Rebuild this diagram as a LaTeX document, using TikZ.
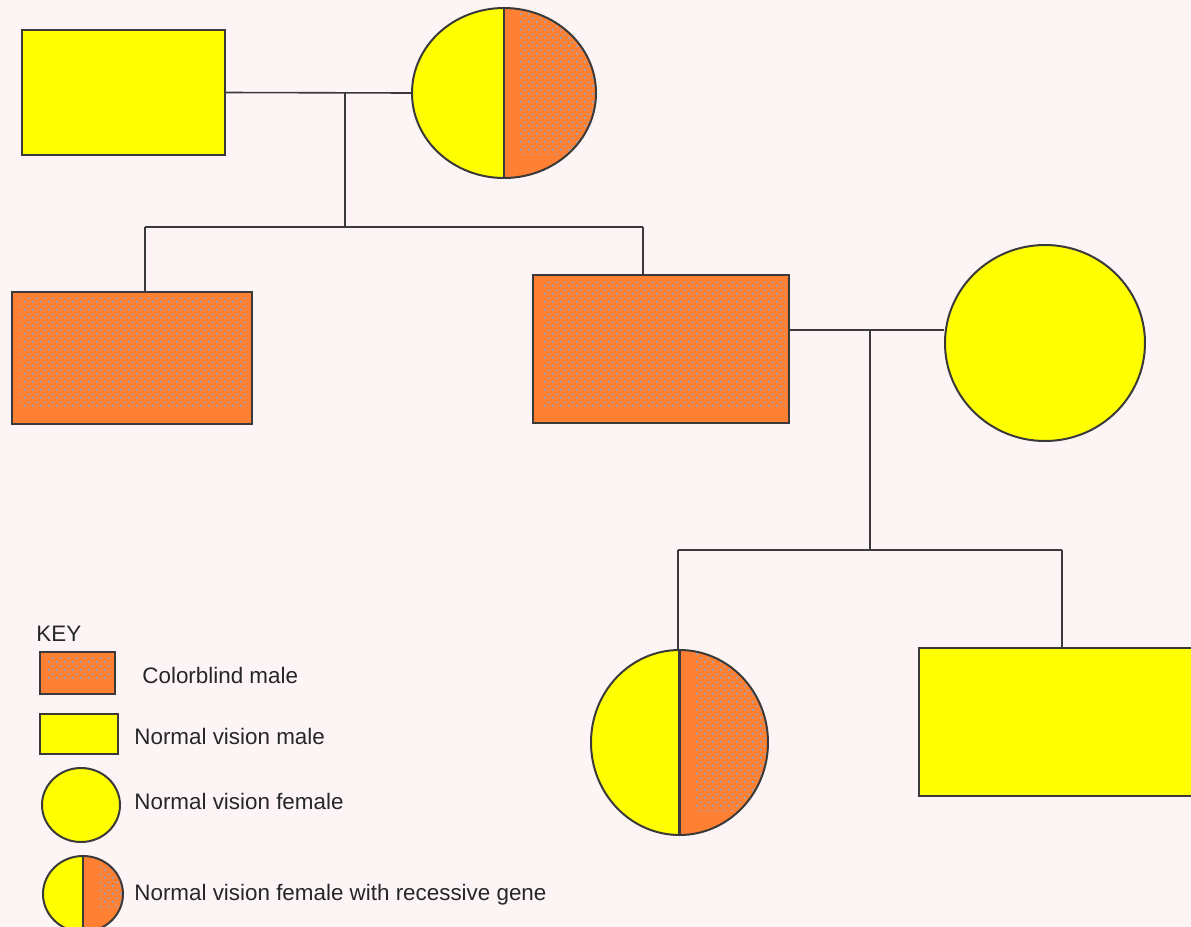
\documentclass[tikz,border=0pt]{standalone}
\usepackage{fontspec}
\setmainfont{Liberation Sans}
\usetikzlibrary{shapes.geometric, patterns, positioning}
\definecolor{pdBack}{HTML}{FDF5F5}
\definecolor{pdYellow}{HTML}{FFFF00}
\definecolor{pdOrange}{HTML}{FF8033}
\definecolor{pdDots}{HTML}{9EA3B8}
\definecolor{pdLine}{HTML}{3A3A3A}
% sparse gray dots of the colourblind fill
\pgfdeclarepatternformonly{cbdots}{\pgfqpoint{0pt}{0pt}}{\pgfqpoint{4pt}{4pt}}{\pgfqpoint{4pt}{4pt}}{%
  \pgfpathrectangle{\pgfqpoint{0pt}{0pt}}{\pgfqpoint{1pt}{1pt}}%
  \pgfpathrectangle{\pgfqpoint{2pt}{2pt}}{\pgfqpoint{1pt}{1pt}}%
  \pgfusepath{fill}}

\begin{document}
\begin{tikzpicture}[x=0.5pt, y=-0.5pt,
  male/.style={rectangle, draw=pdLine, line width=1pt, fill=pdYellow, inner sep=0pt},
  cbmale/.style={male, fill=pdOrange, path picture={
      \fill[pattern=cbdots, pattern color=pdDots] ([xshift=4pt,yshift=-2pt]path picture bounding box.north west)
        rectangle ([xshift=-2pt,yshift=8pt]path picture bounding box.south east);}},
  female/.style={ellipse, draw=pdLine, line width=1pt, fill=pdYellow, inner sep=0pt},
  carrier/.style={female, path picture={
      \fill[pdOrange] (path picture bounding box.north) rectangle (path picture bounding box.south east);
      \fill[pattern=cbdots, pattern color=pdDots] ([xshift=8pt]path picture bounding box.north)
        rectangle ([yshift=12pt]path picture bounding box.south east);
      \draw[pdLine, line width=1.2pt] (path picture bounding box.north) -- (path picture bounding box.south);}},
  link/.style={draw=pdLine, line width=0.8pt},
  keytext/.style={anchor=west, inner sep=0pt, text=black!85, font=\fontsize{11.2}{13}\selectfont}]
  \useasboundingbox (0,0) rectangle (1191,927);
  \fill[pdBack] (0,0) rectangle (1191,927);
  \clip (0,0) rectangle (1191,927);
  % first generation
  \node[male, minimum width=101.5pt, minimum height=62.5pt](f1) at (123.5,92.5){};
  \node[carrier, minimum width=92pt, minimum height=85pt](m1) at (504,93){};
  % second generation
  \node[cbmale, minimum width=120pt, minimum height=66pt](son1) at (132,358){};
  \node[cbmale, minimum width=128pt, minimum height=74pt](son2) at (661,349){};
  \node[female, minimum width=100pt, minimum height=98pt](wife) at (1045,343){};
  % third generation
  \node[carrier, minimum width=88.5pt, minimum height=92.5pt](dau) at (679.5,742.5){};
  \node[male, minimum width=160.5pt, minimum height=74pt](gson) at (1079.5,722){};
  % lines
  \coordinate (u1) at (345,92.5);
  \coordinate (s1) at (345,227);
  \coordinate (s1l) at (145,227);
  \coordinate (s1r) at (643,227);
  \draw[link](f1.east) -- (m1.west);
  \draw[link](u1) -- (s1);
  \draw[link](s1l) -- (s1r);
  \draw[link](s1l) -- (s1l |- son1.north);
  \draw[link](s1r) -- (s1r |- son2.north);
  \coordinate (u2) at (870,330);
  \coordinate (s2) at (870,550);
  \coordinate (s2l) at (678,550);
  \coordinate (s2r) at (1062,550);
  \draw[link](son2.east |- u2) -- (wife.west |- u2);
  \draw[link](u2) -- (s2);
  \draw[link](s2l) -- (s2r);
  \draw[link](s2l) -- (s2l |- dau.north);
  \draw[link](s2r) -- (s2r |- gson.north);
  % key
  \node[keytext](key) at (36,634){KEY};
  \node[cbmale, minimum width=37.5pt, minimum height=21pt](kcb) at (77.5,673){};
  \node[male, minimum width=39pt, minimum height=20pt](knm) at (79,734){};
  \node[female, minimum width=39pt, minimum height=37pt](knf) at (81,805){};
  \node[carrier, minimum width=40pt, minimum height=38pt](kcar) at (83,894){};
  \node[keytext](tcb) at (142,675){Colorblind male};
  \node[keytext](tnm) at (134,736){Normal vision male};
  \node[keytext](tnf) at (134,801){Normal vision female};
  \node[keytext](tcar) at (134,895){Normal vision female with recessive gene};
\end{tikzpicture}
\end{document}
